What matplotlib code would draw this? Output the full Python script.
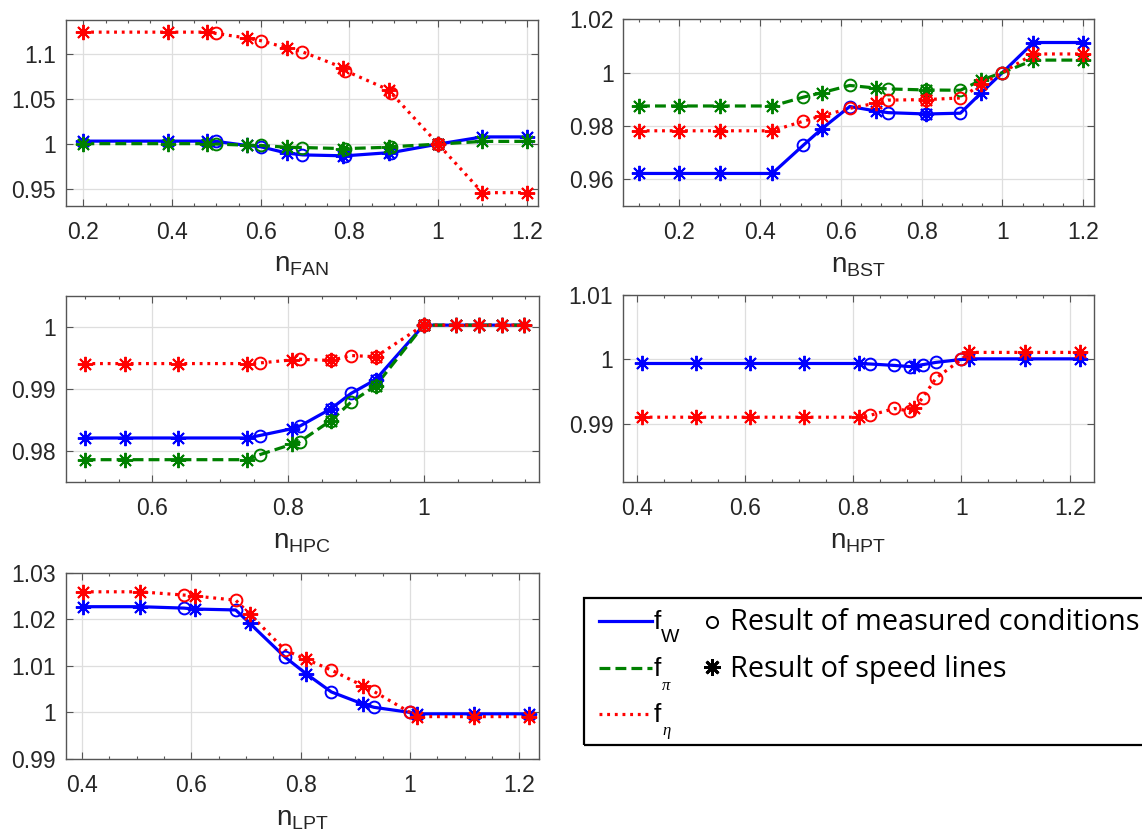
import matplotlib
matplotlib.use("Agg")
import matplotlib.pyplot as plt
from matplotlib.ticker import FuncFormatter, MultipleLocator, FixedLocator
from matplotlib.lines import Line2D
from matplotlib.patches import Rectangle

# ---------------------------------------------------------------- data
# marker kinds: '*' speed-line result, 'o' measured condition, 'b' both
fan_x = [0.2, 0.39, 0.478, 0.5, 0.568, 0.6, 0.659, 0.694, 0.785, 0.791, 0.89, 0.894, 1.0, 1.1, 1.2]
fan_k = "***o*o*o*o*obb*"[:12] + "b**"
fan_fW = [1.0033, 1.0033, 1.0033, 1.003, 0.9985, 0.997, 0.990, 0.988, 0.987, 0.987, 0.9905, 0.9905, 1.0, 1.008, 1.008]
fan_fpi = [1.0005, 1.0005, 1.0005, 1.0, 0.9988, 0.9985, 0.9965, 0.9962, 0.995, 0.995, 0.9965, 0.997, 1.0, 1.003, 1.003]
fan_feta = [1.1245, 1.1245, 1.1245, 1.123, 1.118, 1.115, 1.107, 1.1026, 1.085, 1.0815, 1.060, 1.057, 1.0, 0.946, 0.946]

bst_x = [0.1, 0.2, 0.3, 0.43, 0.507, 0.553, 0.622, 0.688, 0.717, 0.812, 0.896, 0.948, 1.0, 1.077, 1.2]
bst_k = "****o*o*obo*o**"
bst_fW = [0.9622, 0.9622, 0.9622, 0.9622, 0.9728, 0.979, 0.9873, 0.9856, 0.985, 0.9845, 0.9848, 0.9925, 1.0, 1.0113, 1.0113]
bst_fpi = [0.9875, 0.9875, 0.9875, 0.9875, 0.9908, 0.9925, 0.9952, 0.9942, 0.9939, 0.9935, 0.9934, 0.9972, 1.0, 1.0047, 1.0047]
bst_feta = [0.9782, 0.9782, 0.9782, 0.9782, 0.9818, 0.9838, 0.9866, 0.9886, 0.9897, 0.9899, 0.9905, 0.9956, 1.0, 1.007, 1.007]

hpc_x = [0.5, 0.559, 0.637, 0.74, 0.758, 0.806, 0.817, 0.863, 0.893, 0.929, 1.0, 1.048, 1.081, 1.115, 1.148]
hpc_k = "****o*obobb****"
hpc_fW = [0.9821, 0.9821, 0.9821, 0.9821, 0.9825, 0.9836, 0.984, 0.9868, 0.9893, 0.9915, 1.0003, 1.0003, 1.0003, 1.0003, 1.0003]
hpc_fpi = [0.9786, 0.9786, 0.9786, 0.9786, 0.9794, 0.9811, 0.9815, 0.9849, 0.9879, 0.9905, 1.0003, 1.0003, 1.0003, 1.0003, 1.0003]
hpc_feta = [0.9941, 0.9941, 0.9941, 0.9941, 0.9942, 0.9947, 0.9948, 0.9946, 0.9954, 0.9952, 1.0003, 1.0003, 1.0003, 1.0003, 1.0003]

hpt_x = [0.41, 0.51, 0.61, 0.71, 0.81, 0.832, 0.876, 0.905, 0.913, 0.929, 0.953, 1.0, 1.015, 1.117, 1.22]
hpt_k = "*****ooo*ooo***"
hpt_fW = [0.99938, 0.99938, 0.99938, 0.99938, 0.99938, 0.9993, 0.99908, 0.9989, 0.9990, 0.9992, 0.99955, 1.0, 1.0001, 1.0001, 1.0001]
hpt_feta = [0.99105, 0.99105, 0.99105, 0.99105, 0.99105, 0.99135, 0.9924, 0.992, 0.9925, 0.9941, 0.9971, 1.0, 1.0011, 1.0011, 1.0011]

lpt_x = [0.402, 0.506, 0.586, 0.606, 0.681, 0.707, 0.771, 0.81, 0.856, 0.914, 0.934, 1.0, 1.013, 1.117, 1.217]
lpt_k = "**o*o*o*o*oo***"
lpt_fW = [1.0227, 1.0227, 1.0224, 1.0222, 1.022, 1.0191, 1.0119, 1.0083, 1.0044, 1.0018, 1.0011, 1.0, 0.9997, 0.9997, 0.9997]
lpt_feta = [1.0259, 1.0259, 1.0252, 1.025, 1.0241, 1.0211, 1.0134, 1.0114, 1.0091, 1.0057, 1.0045, 1.0, 0.9991, 0.9991, 0.9991]

# ---------------------------------------------------------------- style
W, H = 1142, 840
plt.rcParams["font.family"] = ["Liberation Sans", "DejaVu Sans"]
plt.rcParams["mathtext.fontset"] = "custom"
plt.rcParams["mathtext.rm"] = "Liberation Sans"
plt.rcParams["mathtext.it"] = "Liberation Sans:italic"

TXT = "#262626"
AX = "#555555"
STAR = (8, 2, 0)
LW = 2.3
STY = {
    "fW": dict(color="#0000ff", ls="-"),
    "fpi": dict(color="#008000", ls=(0, (3.4, 1.6))),
    "feta": dict(color="#ff0000", ls=(0, (0.9, 1.5))),
}

fig = plt.figure(figsize=(W / 100, H / 100), dpi=100)


def px_axes(l, t, r, b):
    return fig.add_axes([l / W, 1 - b / H, (r - l) / W, (b - t) / H])


def fmt(v, _):
    return "%g" % round(v, 6)


def series(ax, x, kinds, y, key):
    s = STY[key]
    ax.plot(x, y, color=s["color"], ls=s["ls"], lw=LW, zorder=2)
    xo = [a for a, k in zip(x, kinds) if k in "ob"]
    yo = [b for b, k in zip(y, kinds) if k in "ob"]
    xs = [a for a, k in zip(x, kinds) if k in "*b"]
    ys = [b for b, k in zip(y, kinds) if k in "*b"]
    ax.plot(xo, yo, ls="none", marker="o", ms=8.5, mfc="none", mec=s["color"], mew=1.4, zorder=3)
    ax.plot(xs, ys, ls="none", marker=STAR, ms=11, mec=s["color"], mew=1.4, zorder=3)


def setup(ax, xlim, ylim, xmaj, yticks, label):
    ax.set_xlim(*xlim)
    ax.set_ylim(*ylim)
    ax.xaxis.set_major_locator(MultipleLocator(xmaj))
    ax.xaxis.set_minor_locator(MultipleLocator(xmaj / 4))
    ax.yaxis.set_major_locator(FixedLocator(yticks))
    ax.xaxis.set_major_formatter(FuncFormatter(fmt))
    ax.yaxis.set_major_formatter(FuncFormatter(fmt))
    ax.grid(True, which="major", color="#dedede", lw=0.9)
    ax.set_axisbelow(True)
    ax.tick_params(which="both", direction="in", top=True, right=True, color=AX, width=0.8)
    ax.tick_params(which="major", length=5)
    ax.tick_params(which="minor", length=2.5)
    ax.tick_params(axis="x", which="major", labelsize=16.5, labelcolor=TXT, pad=11)
    ax.tick_params(axis="y", which="major", labelsize=16.5, labelcolor=TXT, pad=7)
    for sp in ax.spines.values():
        sp.set_color(AX)
        sp.set_linewidth(1.0)
    ax.set_xlabel(r"$\mathrm{n_{%s}}$" % label, fontsize=20, color=TXT, labelpad=6)


# FAN
ax = px_axes(65.7, 20, 538.3, 205.7)
series(ax, fan_x, fan_k, fan_fW, "fW")
series(ax, fan_x, fan_k, fan_fpi, "fpi")
series(ax, fan_x, fan_k, fan_feta, "feta")
setup(ax, (0.16, 1.226), (0.9315, 1.138), 0.2, [0.95, 1.0, 1.05, 1.1], "FAN")

# BST
ax = px_axes(623.3, 19.3, 1094, 206)
series(ax, bst_x, bst_k, bst_fW, "fW")
series(ax, bst_x, bst_k, bst_fpi, "fpi")
series(ax, bst_x, bst_k, bst_feta, "feta")
setup(ax, (0.061, 1.227), (0.95, 1.02), 0.2, [0.96, 0.98, 1.0, 1.02], "BST")

# HPC
ax = px_axes(65.7, 296, 539, 482)
series(ax, hpc_x, hpc_k, hpc_fW, "fW")
series(ax, hpc_x, hpc_k, hpc_fpi, "fpi")
series(ax, hpc_x, hpc_k, hpc_feta, "feta")
setup(ax, (0.472, 1.17), (0.975, 1.005), 0.2, [0.98, 0.99, 1.0], "HPC")

# HPT
ax = px_axes(623, 295, 1094, 482)
series(ax, hpt_x, hpt_k, hpt_fW, "fW")
series(ax, hpt_x, hpt_k, hpt_feta, "feta")
setup(ax, (0.375, 1.245), (0.981, 1.01), 0.2, [0.99, 1.0, 1.01], "HPT")

# LPT
ax = px_axes(65.7, 572.7, 539, 759)
series(ax, lpt_x, lpt_k, lpt_fW, "fW")
series(ax, lpt_x, lpt_k, lpt_feta, "feta")
setup(ax, (0.37, 1.236), (0.99, 1.03), 0.2, [0.99, 1.0, 1.01, 1.02, 1.03], "LPT")

# ---------------------------------------------------------------- legend box
def fx(x):
    return x / W


def fy(y):
    return 1 - y / H


fig.add_artist(Rectangle((fx(584), fy(745)), fx(1160) - fx(584), fy(598) - fy(745),
                         transform=fig.transFigure, fill=False, ec="black", lw=1.6))

rows = [621, 668, 714]
for yrow, key in zip(rows, ["fW", "fpi", "feta"]):
    s = STY[key]
    fig.add_artist(Line2D([fx(599), fx(652)], [fy(yrow), fy(yrow)], transform=fig.transFigure,
                          color=s["color"], ls=s["ls"], lw=LW))

fig.text(fx(654), fy(629), "f", fontsize=19, color="black", va="baseline")
fig.text(fx(661), fy(642), "W", fontsize=14, color="black", va="baseline")
fig.text(fx(654), fy(676), "f", fontsize=19, color="black", va="baseline")
fig.text(fx(662), fy(690), "\u03c0", fontsize=12, color="black", va="baseline",
         family="Liberation Serif", style="italic")
fig.text(fx(654), fy(722), "f", fontsize=19, color="black", va="baseline")
fig.text(fx(662), fy(735), "\u03b7", fontsize=12, color="black", va="baseline",
         family="Liberation Serif", style="italic")

fig.add_artist(Line2D([fx(712)], [fy(622)], transform=fig.transFigure, ls="none",
                      marker="o", ms=8, mfc="none", mec="black", mew=1.4))
fig.add_artist(Line2D([fx(712)], [fy(667)], transform=fig.transFigure, ls="none",
                      marker=STAR, ms=12, mec="black", mew=2.0))

t1 = fig.text(fx(730), fy(630), "Result of measured conditions", fontsize=20,
              family="Open Sans", color="black", va="baseline")
t2 = fig.text(fx(730), fy(677), "Result of speed lines", fontsize=20,
              family="Open Sans", color="black", va="baseline")
r = fig.canvas.get_renderer()
k = 408 / t1.get_window_extent(r).width
t1.set_fontsize(20 * k)
t2.set_fontsize(20 * k)

fig.savefig("out.png", dpi=100, facecolor="white")
